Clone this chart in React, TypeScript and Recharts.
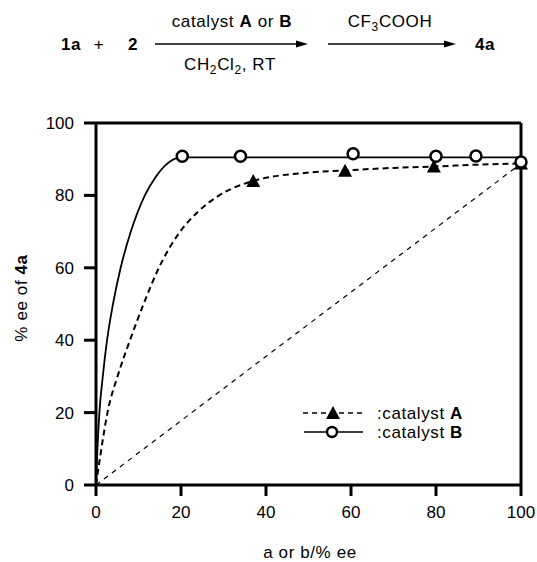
import {
  ComposedChart,
  Line,
  Scatter,
  XAxis,
  YAxis,
  ReferenceLine,
} from 'recharts';

// measured points
const catalystAX = [37, 58.6, 79.5, 100];
const catalystAY = [84, 86.8, 88, 88.8];
const catalystBX = [20.3, 34, 60.5, 80, 89.4, 100];
const catalystBY = [90.8, 90.8, 91.5, 90.8, 90.9, 89.2];

// fitted curves
const curveAX = [0, 1, 2.7, 5.2, 8, 11.2, 14.8, 19.5, 24, 29, 37, 50, 60, 70, 80, 90, 100];
const curveAY = [0, 8, 20, 30.5, 40, 50, 60, 69.5, 75.5, 80, 84, 86.3, 87, 87.6, 88, 88.5, 88.8];
const curveBX = [0, 0.3, 0.8, 1.6, 2.6, 4, 5.8, 8.2, 11.5, 14, 16.5, 20, 100];
const curveBY = [0, 9, 20, 30, 40, 50, 60, 70, 80, 85, 88.5, 90.5, 90.5];

// linear reference (no non-linear effect)
const linearX = [0, 100];
const linearY = [0, 88.8];

const xTicks = [0, 20, 40, 60, 80, 100];
const yTicks = [0, 20, 40, 60, 80, 100];

const zip = (xs: number[], ys: number[]) => xs.map((x, i) => ({ x, y: ys[i] }));

const pointsA = zip(catalystAX, catalystAY);
const pointsB = zip(catalystBX, catalystBY);
const lineA = zip(curveAX, curveAY);
const lineB = zip(curveBX, curveBY);
const lineLinear = zip(linearX, linearY);

const FONT = '"Liberation Sans", Arial, Helvetica, sans-serif';

const Triangle = (props: any) => {
  const { cx, cy } = props;
  return <path d={`M${cx},${cy - 7} L${cx + 7},${cy + 6} L${cx - 7},${cy + 6} Z`} fill="#000" />;
};

const OpenCircle = (props: any) => {
  const { cx, cy } = props;
  return <circle cx={cx} cy={cy} r={5.5} fill="#fff" stroke="#000" strokeWidth={2.5} />;
};

const YLabel = (props: any) => {
  const { viewBox } = props;
  const x = viewBox.x + 27;
  const y = viewBox.y + viewBox.height / 2 - 6;
  return (
    <text
      x={x}
      y={y}
      transform={`rotate(-90 ${x} ${y})`}
      textAnchor="middle"
      fontSize={17}
      fontFamily={FONT}
      letterSpacing={0.6}
      fill="#000"
    >
      % ee of <tspan fontWeight="bold">4a</tspan>
    </text>
  );
};

const XLabel = (props: any) => {
  const { viewBox } = props;
  return (
    <text
      x={viewBox.x + viewBox.width / 2 + 1.5}
      y={viewBox.y + 73}
      textAnchor="middle"
      fontSize={17}
      fontFamily={FONT}
      letterSpacing={0.6}
      fill="#000"
    >
      a or b/% ee
    </text>
  );
};

function Scheme() {
  const t = { fontFamily: FONT, fontSize: 17, fill: '#000', letterSpacing: 0.6 } as const;
  return (
    <svg
      width={537}
      height={562}
      style={{ position: 'absolute', left: 0, top: 0, pointerEvents: 'none' }}
    >
      <text x={61} y={50} {...t} fontWeight="bold">1a</text>
      <text x={99} y={50} {...t} textAnchor="middle">+</text>
      <text x={128} y={50} {...t} fontWeight="bold">2</text>
      <line x1={155} y1={44} x2={298} y2={44} stroke="#000" strokeWidth={1.5} />
      <path d="M308,44 L296,40.5 L296,47.5 Z" fill="#000" />
      <text x={232} y={27} {...t} textAnchor="middle">
        catalyst <tspan fontWeight="bold">A</tspan> or <tspan fontWeight="bold">B</tspan>
      </text>
      <text x={230} y={70} {...t} textAnchor="middle">
        CH<tspan fontSize={12} dy={4}>2</tspan>
        <tspan dy={-4}>Cl</tspan>
        <tspan fontSize={12} dy={4}>2</tspan>
        <tspan dy={-4}>, RT</tspan>
      </text>
      <line x1={328} y1={44} x2={446} y2={44} stroke="#000" strokeWidth={1.5} />
      <path d="M456,44 L444,40.5 L444,47.5 Z" fill="#000" />
      <text x={390} y={27} {...t} textAnchor="middle">
        CF<tspan fontSize={12} dy={4}>3</tspan>
        <tspan dy={-4}>COOH</tspan>
      </text>
      <text x={475} y={50} {...t} fontWeight="bold">4a</text>

      {/* legend */}
      <line x1={303} y1={413} x2={362} y2={413} stroke="#000" strokeWidth={1.5} strokeDasharray="5 4" />
      <path d="M333,406 L340,419 L326,419 Z" fill="#000" />
      <line x1={304} y1={432} x2={363} y2={432} stroke="#000" strokeWidth={1.5} />
      <circle cx={332} cy={432} r={5} fill="#fff" stroke="#000" strokeWidth={2.5} />
      <text x={377} y={419} {...t}>
        :catalyst <tspan fontWeight="bold">A</tspan>
      </text>
      <text x={377} y={438} {...t}>
        :catalyst <tspan fontWeight="bold">B</tspan>
      </text>
    </svg>
  );
}

export default function App() {
  const axisStroke = { stroke: '#000', strokeWidth: 3 };
  const tick = { fill: '#000', fontSize: 17, fontFamily: FONT };
  return (
    <div style={{ position: 'absolute', left: 0, top: 0, width: 537, height: 562, background: '#fff' }}>
      <ComposedChart
        width={537}
        height={562}
        margin={{ top: 123, right: 16, bottom: 0, left: 0 }}
        style={{ fontFamily: FONT }}
      >
        <XAxis
          dataKey="x"
          type="number"
          domain={[0, 100]}
          ticks={xTicks}
          height={77}
          axisLine={axisStroke}
          tickLine={axisStroke}
          tickSize={11}
          tickMargin={10}
          tick={tick}
          label={<XLabel />}
          allowDuplicatedCategory={false}
        />
        <YAxis
          dataKey="y"
          type="number"
          domain={[0, 100]}
          ticks={yTicks}
          width={96}
          axisLine={axisStroke}
          tickLine={axisStroke}
          tickSize={12}
          tickMargin={10}
          tick={tick}
          label={<YLabel />}
        />
        <ReferenceLine y={100} stroke="#000" strokeWidth={3} />
        <ReferenceLine x={100} stroke="#000" strokeWidth={3} />
        <Line
          data={lineLinear}
          dataKey="y"
          type="linear"
          stroke="#000"
          strokeWidth={1.2}
          strokeDasharray="5 5"
          dot={false}
          activeDot={false}
          isAnimationActive={false}
        />
        <Line
          data={lineA}
          dataKey="y"
          type="monotone"
          stroke="#000"
          strokeWidth={2}
          strokeDasharray="6 4"
          dot={false}
          activeDot={false}
          isAnimationActive={false}
        />
        <Line
          data={lineB}
          dataKey="y"
          type="monotone"
          stroke="#000"
          strokeWidth={1.8}
          dot={false}
          activeDot={false}
          isAnimationActive={false}
        />
        <Scatter data={pointsA} dataKey="y" shape={<Triangle />} isAnimationActive={false} />
        <Scatter data={pointsB} dataKey="y" shape={<OpenCircle />} isAnimationActive={false} />
      </ComposedChart>
      <Scheme />
    </div>
  );
}
